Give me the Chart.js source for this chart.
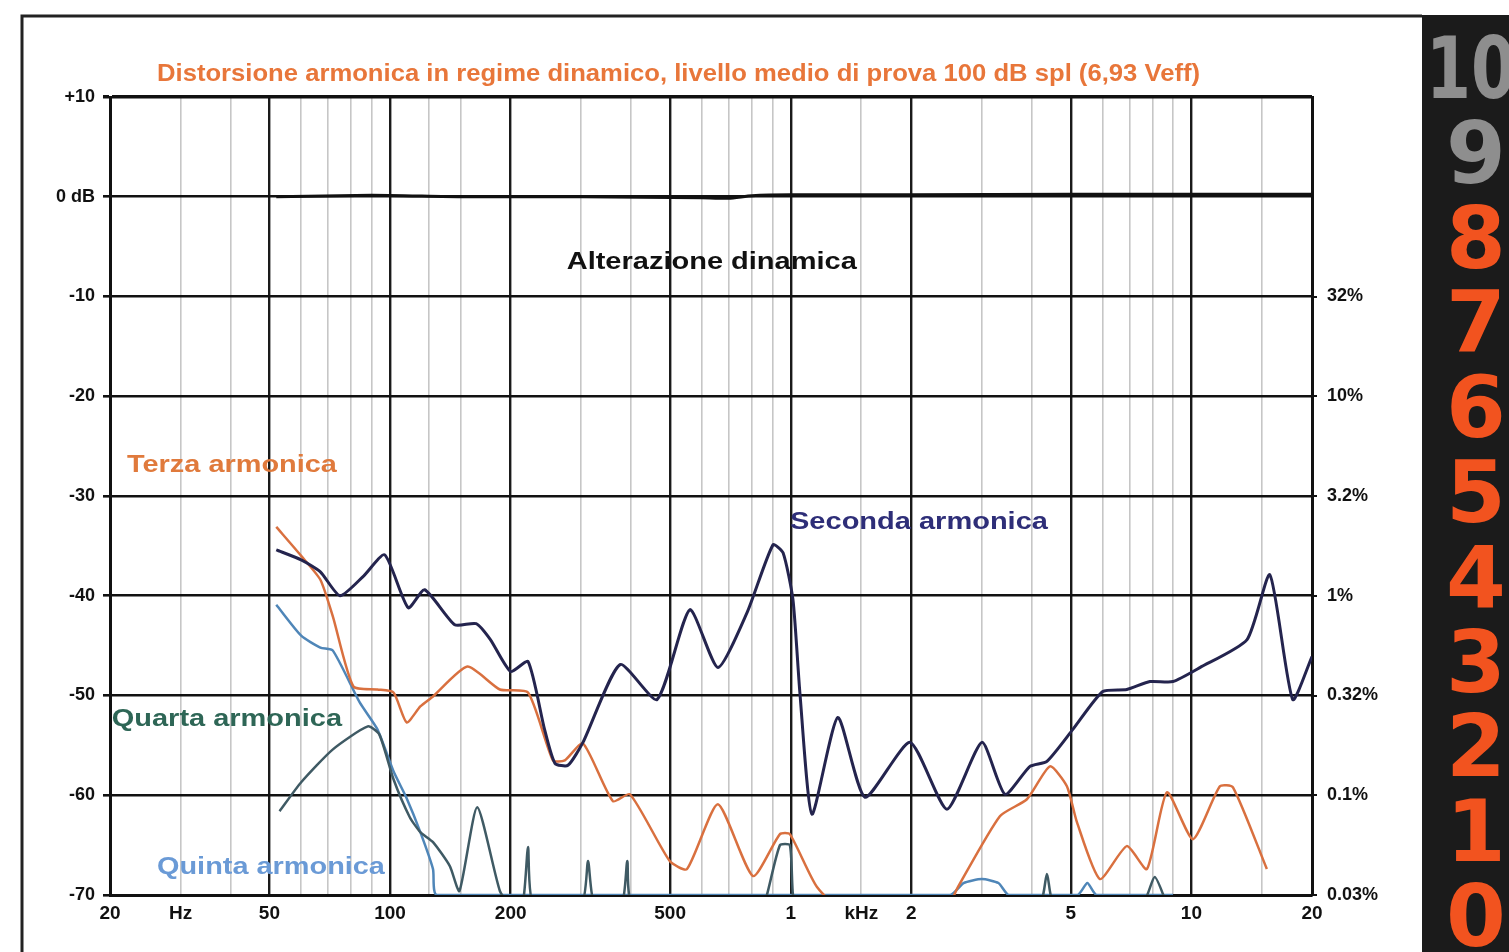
<!DOCTYPE html>
<html>
<head>
<meta charset="utf-8">
<script src="https://cdn.jsdelivr.net/npm/chart.js@4.4.1/dist/chart.umd.min.js"></script>
<style>
  html, body { margin: 0; padding: 0; background: #fff; }
  canvas { display: block; }
</style>
</head>
<body>
<canvas id="chart" width="1509" height="952"></canvas>
<script>
// frequency axis (Hz) and its labelled ticks
const xTickValues = [20, 30, 40, 50, 60, 70, 80, 90, 100, 125, 150, 200, 300, 400, 500, 600, 700, 800, 900,
    1000, 1500, 2000, 3000, 4000, 5000, 6000, 7000, 8000, 9000, 10000, 15000, 20000];
const xTickText = ['20', 'Hz', '', '50', '', '', '', '', '100', '', '', '200', '', '', '500', '', '', '', '',
    '1', 'kHz', '2', '', '', '5', '', '', '', '', '10', '', '20'];
const xMajor = [50, 100, 200, 500, 1000, 2000, 5000, 10000];

// right hand scale (distortion %)
const yRightValues = [-10, -20, -30, -40, -50, -60, -70];
const yRightText = ['32%', '10%', '3.2%', '1%', '0.32%', '0.1%', '0.03%'];

// Alterazione dinamica
const alterHz = [52, 90, 150, 300, 600, 700, 800, 1000, 2000, 5000, 10000, 20000];
const alterDb = [0.0, 0.15, 0.0, 0.0, -0.1, -0.15, 0.1, 0.2, 0.2, 0.25, 0.25, 0.25];

// Seconda armonica
const secondaHz = [52, 60, 67, 75, 86, 97, 111, 122, 145, 164, 178, 200, 221, 243, 258, 278, 303, 375, 464, 560,
    658, 778, 903, 957, 1013, 1054, 1130, 1311, 1532, 1985, 2454, 3000, 3425, 3955, 4360, 5060, 6010, 6900, 7880, 8990,
    10500, 13770, 15700, 17900, 20000];
const secondaDb = [-35.4, -36.4, -37.6, -40.0, -38.0, -35.9, -41.2, -39.4, -42.9, -42.8, -44.4, -47.6, -46.6, -53.4, -56.8, -57.0, -54.7, -46.9, -50.4, -41.4,
    -47.2, -41.7, -34.9, -35.7, -40.4, -49.7, -61.9, -52.2, -60.2, -54.7, -61.4, -54.7, -59.9, -57.1, -56.6, -53.4, -49.6, -49.4, -48.6, -48.6,
    -47.2, -44.4, -37.9, -50.4, -46.1];

// Terza armonica
const terzaHz = [52, 60, 67, 72, 81, 93, 102, 110, 119, 128, 156, 188, 221, 255, 273, 303, 360, 397, 499, 551,
    658, 805, 940, 995, 1163, 1400, 2400, 2598, 3327, 3886, 4436, 4890, 5180, 5912, 6900, 7745, 8690, 10090, 11780, 12700,
    15430];
const terzaDb = [-33.1, -36.0, -38.4, -42.1, -49.1, -49.4, -49.7, -52.7, -51.1, -50.1, -47.1, -49.4, -49.7, -56.5, -56.5, -54.8, -60.6, -59.9, -66.6, -67.4,
    -60.9, -68.1, -63.9, -63.9, -69.2, -72, -72, -69.4, -62.1, -60.4, -57.1, -59.1, -62.7, -68.4, -65.1, -67.4, -59.7, -64.4, -59.1, -59.2,
    -67.4];

// Quarta armonica
const quartaHz = [53, 60, 72, 88, 94, 102, 112, 119, 128, 141, 149, 165, 188, 200, 214, 221, 228, 300, 312, 324,
    378, 391, 404, 850, 872, 940, 995, 1013, 1040, 4150, 4360, 4560, 7500, 8100, 8700];
const quartaDb = [-61.6, -58.7, -55.4, -53.1, -53.9, -58.4, -62.2, -63.7, -64.7, -67.1, -69.6, -61.2, -69.6, -71, -71, -65.2, -71, -71, -66.6, -71,
    -71, -66.6, -71, -71, -70, -65, -65, -70, -71, -71, -67.9, -71, -71, -68.2, -71];

// Quinta armonica
const quintaHz = [52, 60, 67, 72, 84, 93, 102, 110, 119, 128, 131, 2500, 2700, 3000, 3300, 3500, 5200, 5500, 5800, 9000];
const quintaDb = [-40.9, -44.0, -45.2, -45.5, -50.7, -53.4, -57.6, -60.3, -63.7, -67.4, -70, -70, -68.8, -68.4, -68.8, -70, -70, -68.8, -70, -70];

// rating column on the right
const ratingDigits = ['10', '9', '8', '7', '6', '5', '4', '3', '2', '1', '0'];

const FONT = '"Liberation Sans", Arial, sans-serif';

function pts(hz, db) {
    return hz.map((f, i) => ({ x: f, y: db[i] }));
}

// draw text squeezed/stretched to span x0..x1
function fitText(ctx, text, x0, x1, y, font, color) {
    ctx.save();
    ctx.font = font;
    ctx.fillStyle = color;
    ctx.textAlign = 'left';
    ctx.textBaseline = 'middle';
    const w = ctx.measureText(text).width;
    ctx.translate(x0, y);
    ctx.scale((x1 - x0) / w, 1);
    ctx.fillText(text, 0, 0);
    ctx.restore();
}

const decorPlugin = {
    id: 'decor',
    beforeDraw(chart) {
        const ctx = chart.ctx;
        ctx.save();
        ctx.fillStyle = '#fff';
        ctx.fillRect(0, 0, chart.width, chart.height);
        // outer frame
        ctx.strokeStyle = '#222';
        ctx.lineWidth = 3;
        ctx.beginPath();
        ctx.moveTo(22, chart.height);
        ctx.lineTo(22, 16);
        ctx.lineTo(1422, 16);
        ctx.stroke();
        // black rating band
        ctx.fillStyle = '#1b1b1b';
        ctx.fillRect(1422, 15, chart.width - 1422, chart.height - 15);
        ctx.restore();
    },
    afterDraw(chart) {
        const ctx = chart.ctx;
        const x = chart.scales.x, y = chart.scales.y;

        fitText(ctx, 'Distorsione armonica in regime dinamico, livello medio di prova 100 dB spl (6,93 Veff)',
            157, 1200, 74, 'bold 24px ' + FONT, '#e8763a');

        const lbl = (t, f0, f1, db, color) =>
            fitText(ctx, t, x.getPixelForValue(f0), x.getPixelForValue(f1), y.getPixelForValue(db), 'bold 23px ' + FONT, color);
        lbl('Alterazione dinamica', 276, 1462, -6.6, '#111');
        lbl('Seconda armonica', 996, 4385, -32.7, '#2e2e78');
        lbl('Terza armonica', 22.05, 73.7, -27.0, '#e07a3c');
        lbl('Quarta armonica', 20.2, 75.9, -52.4, '#2e6656');
        lbl('Quinta armonica', 26.2, 97.1, -67.3, '#6a9ad6');

        // rating digits
        ctx.save();
        ratingDigits.forEach((d, i) => {
            const cy = 67 + 84.8 * i;
            const color = i < 2 ? '#8e8e8e' : '#f2531f';
            ctx.font = 'bold 86px "DejaVu Sans", sans-serif';
            ctx.fillStyle = color;
            ctx.textBaseline = 'alphabetic';
            if (d === '10') {
                const w = ctx.measureText(d).width;
                ctx.save();
                ctx.translate(1426, cy + 31);
                ctx.scale(90 / w, 1);
                ctx.textAlign = 'left';
                ctx.fillText(d, 0, 0);
                ctx.restore();
            } else {
                ctx.textAlign = 'center';
                ctx.fillText(d, 1476, cy + 31);
            }
        });
        ctx.restore();
    }
};

const lineDs = (label, hz, db, color, width) => ({
    label: label,
    data: pts(hz, db),
    borderColor: color,
    borderWidth: width,
    pointRadius: 0,
    tension: 0.2,
    clip: 0
});

new Chart(document.getElementById('chart'), {
    type: 'line',
    data: {
        datasets: [
            lineDs('Seconda armonica', secondaHz, secondaDb, '#24244e', 3),
            lineDs('Alterazione dinamica', alterHz, alterDb, '#111', 3),
            lineDs('Terza armonica', terzaHz, terzaDb, '#d9703f', 2.5),
            lineDs('Quarta armonica', quartaHz, quartaDb, '#3f5a64', 2.5),
            lineDs('Quinta armonica', quintaHz, quintaDb, '#4f86b8', 2.5)
        ]
    },
    options: {
        responsive: false,
        devicePixelRatio: 1,
        animation: false,
        layout: { padding: { left: 22, top: 97, right: 0, bottom: 0 } },
        plugins: {
            legend: { display: false },
            tooltip: { enabled: false },
            title: { display: false }
        },
        scales: {
            x: {
                type: 'logarithmic',
                min: 20,
                max: 20000,
                afterBuildTicks: s => { s.ticks = xTickValues.map(v => ({ value: v })); },
                afterFit: s => { s.height = 57; },
                ticks: {
                    autoSkip: false,
                    maxRotation: 0,
                    minRotation: 0,
                    padding: 7,
                    color: '#111',
                    font: { family: FONT, size: 19, weight: 'bold' },
                    callback: v => xTickText[xTickValues.indexOf(v)] ?? ''
                },
                grid: {
                    drawTicks: false,
                    color: c => (xMajor.includes(c.tick.value) || c.tick.value === 20 || c.tick.value === 20000) ? '#1a1a1a' : '#c6c6c6',
                    lineWidth: c => xMajor.includes(c.tick.value) ? 2.4 : 1.6
                },
                border: { display: true, color: '#111', width: 3 }
            },
            y: {
                type: 'linear',
                position: 'left',
                min: -70,
                max: 10,
                afterFit: s => { s.width = 88; },
                ticks: {
                    stepSize: 10,
                    padding: 8,
                    color: '#111',
                    font: { family: FONT, size: 18, weight: 'bold' },
                    callback: v => v === 10 ? '+10' : (v === 0 ? '0 dB' : String(v))
                },
                grid: {
                    color: '#111',
                    lineWidth: c => c.tick && c.tick.value === 10 ? 3.5 : 2.6,
                    tickLength: 7
                },
                border: { display: true, color: '#111', width: 3 }
            },
            y2: {
                type: 'linear',
                axis: 'y',
                position: 'right',
                min: -70,
                max: 10,
                afterBuildTicks: s => { s.ticks = yRightValues.map(v => ({ value: v })); },
                afterFit: s => { s.width = 197; },
                ticks: {
                    padding: 10,
                    color: '#111',
                    font: { family: FONT, size: 18, weight: 'bold' },
                    callback: v => yRightText[yRightValues.indexOf(v)] ?? ''
                },
                grid: {
                    drawOnChartArea: false,
                    color: '#111',
                    lineWidth: 2,
                    tickLength: 5
                },
                border: { display: true, color: '#111', width: 3 }
            }
        }
    },
    plugins: [decorPlugin]
});
</script>
</body>
</html>
